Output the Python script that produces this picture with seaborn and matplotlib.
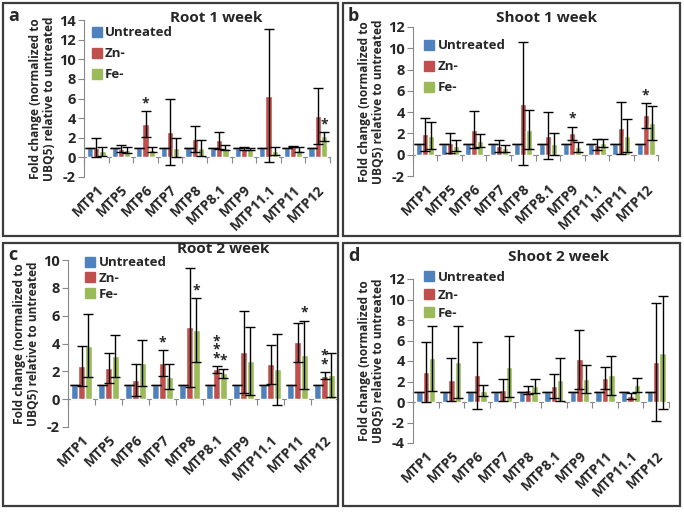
import matplotlib
matplotlib.use("Agg")
import matplotlib.pyplot as plt
import seaborn as sns
import pandas as pd
import numpy as np
from matplotlib.patches import Rectangle
from matplotlib.lines import Line2D

# ---------------- data ----------------
genes_1 = ["MTP1", "MTP5", "MTP6", "MTP7", "MTP8", "MTP8.1", "MTP9", "MTP11.1", "MTP11", "MTP12"]
genes_d = ["MTP1", "MTP5", "MTP6", "MTP7", "MTP8", "MTP8.1", "MTP9", "MTP11", "MTP11.1", "MTP12"]
conditions = ["Untreated", "Zn-", "Fe-"]

untreated = [1, 1, 1, 1, 1, 1, 1, 1, 1, 1]
untreated_err = [0, 0, 0, 0, 0, 0, 0, 0, 0, 0]

# a: Root 1 week
a_zn = [1.0, 0.9, 3.4, 2.6, 1.85, 1.75, 0.9, 6.3, 1.1, 4.25]
a_zn_err = [1.0, 0.35, 1.3, 3.4, 1.3, 0.85, 0.15, 6.8, 0.05, 2.85]
a_fe = [0.6, 0.75, 0.8, 1.0, 0.95, 1.0, 0.85, 0.65, 0.8, 2.15]
a_fe_err = [0.5, 0.35, 0.3, 1.0, 0.8, 0.25, 0.1, 0.4, 0.3, 0.45]
a_stars = [("Zn-", "MTP6", "*"), ("Fe-", "MTP12", "*")]

# b: Shoot 1 week
b_zn = [1.9, 1.1, 2.35, 0.8, 4.8, 1.8, 2.0, 0.95, 2.55, 3.7]
b_zn_err = [1.55, 0.9, 1.75, 0.55, 5.8, 2.2, 0.65, 0.5, 2.45, 1.2]
b_fe = [1.8, 0.85, 1.3, 0.6, 2.35, 1.0, 0.75, 1.1, 1.8, 2.95]
b_fe_err = [1.3, 0.5, 0.6, 0.3, 1.85, 1.0, 0.45, 0.35, 1.55, 1.6]
b_stars = [("Zn-", "MTP9", "*"), ("Zn-", "MTP12", "*")]

# c: Root 2 week
c_zn = [2.4, 2.25, 1.35, 2.6, 5.15, 2.15, 3.4, 2.5, 4.1, 1.7]
c_zn_err = [1.45, 1.1, 1.15, 0.9, 4.25, 0.25, 2.95, 1.4, 1.4, 0.25]
c_fe = [3.85, 3.1, 2.6, 1.6, 4.95, 1.85, 2.75, 2.15, 3.2, 1.75]
c_fe_err = [2.25, 1.5, 1.65, 0.9, 2.3, 0.35, 2.45, 2.55, 2.45, 1.6]
c_stars = [("Zn-", "MTP7", "*"), ("Fe-", "MTP8", "*"), ("Zn-", "MTP8.1", "*\n*\n*"),
           ("Fe-", "MTP8.1", "*"), ("Fe-", "MTP11", "*"), ("Zn-", "MTP12", "*\n*")]

# d: Shoot 2 week
d_zn = [2.95, 2.15, 2.6, 1.15, 1.15, 1.55, 4.15, 2.35, 0.6, 3.9]
d_zn_err = [2.95, 2.1, 3.3, 1.1, 0.4, 1.15, 2.9, 1.05, 0.3, 5.8]
d_fe = [4.25, 3.9, 1.1, 3.45, 1.55, 2.15, 2.25, 2.6, 1.65, 4.8]
d_fe_err = [3.15, 3.5, 0.55, 3.0, 0.7, 2.1, 1.4, 1.9, 0.7, 5.5]
d_stars = []

palette = {"Untreated": "#4F81BD", "Zn-": "#C0504D", "Fe-": "#9BBB59"}

sns.set_style("white")
plt.rcParams["font.family"] = ["Open Sans", "DejaVu Sans"]
plt.rcParams["font.weight"] = "bold"

W, H = 684, 512
fig = plt.figure(figsize=(W / 100, H / 100), dpi=100)


def fx(px):
    return px / W


def fy(py):
    return 1 - py / H


panels = [
    dict(letter="a", title="Root 1 week", genes=genes_1, zn=a_zn, zne=a_zn_err, fe=a_fe, fee=a_fe_err,
         stars=a_stars, box=(3, 3, 338, 236), axpx=(84, 20, 330, 177), ylim=(-2, 14), yt=2,
         tpos=(216, 18), lpos=(8, 16), leg=(0.0, 1.01), legsp=0.6),
    dict(letter="b", title="Shoot 1 week", genes=genes_1, zn=b_zn, zne=b_zn_err, fe=b_fe, fee=b_fe_err,
         stars=b_stars, box=(343, 3, 680, 236), axpx=(413, 27, 658, 176), ylim=(-2, 12), yt=2,
         tpos=(547, 18), lpos=(348, 16), leg=(0.015, 0.97), legsp=0.6),
    dict(letter="c", title="Root 2 week", genes=genes_1, zn=c_zn, zne=c_zn_err, fe=c_fe, fee=c_fe_err,
         stars=c_stars, box=(3, 243, 338, 506), axpx=(68, 260, 338, 427), ylim=(-2, 10), yt=2,
         tpos=(223, 249), lpos=(8, 255), leg=(0.035, 1.07), legsp=0.2),
    dict(letter="d", title="Shoot 2 week", genes=genes_d, zn=d_zn, zne=d_zn_err, fe=d_fe, fee=d_fe_err,
         stars=d_stars, box=(343, 243, 680, 506), axpx=(413, 279, 669, 443), ylim=(-4, 12), yt=2,
         tpos=(559, 257), lpos=(348, 256), leg=(0.015, 1.1), legsp=0.4),
]

for p in panels:
    x0, y0, x1, y1 = p["box"]
    fig.patches.append(Rectangle((fx(x0), fy(y1)), fx(x1 - x0), (y1 - y0) / H,
                                 transform=fig.transFigure, fill=False,
                                 edgecolor="#3c3c3c", linewidth=1.6, zorder=0))
    ax0, ay0, ax1, ay1 = p["axpx"]
    ax = fig.add_axes([fx(ax0), fy(ay1), fx(ax1 - ax0), (ay1 - ay0) / H])

    genes = p["genes"]
    df = pd.DataFrame({
        "gene": genes * 3,
        "cond": ["Untreated"] * 10 + ["Zn-"] * 10 + ["Fe-"] * 10,
        "value": list(untreated) + list(p["zn"]) + list(p["fe"]),
    })
    sns.barplot(data=df, x="gene", y="value", hue="cond", order=genes, hue_order=conditions,
                palette=palette, saturation=1, errorbar=None, width=0.75, gap=0,
                ax=ax, zorder=2, legend=False)

    errs = {"Untreated": untreated_err, "Zn-": p["zne"], "Fe-": p["fee"]}
    centers = {}
    for cond, cont in zip(conditions, ax.containers):
        xs = [b.get_x() + b.get_width() / 2 for b in cont]
        hs = [b.get_height() for b in cont]
        ax.errorbar(xs, hs, yerr=errs[cond], fmt="none", ecolor="black",
                    elinewidth=1.0, capsize=3.5, capthick=1.0, zorder=4)
        centers[cond] = (xs, hs)

    for cond, gene, s in p["stars"]:
        i = genes.index(gene)
        xs, hs = centers[cond]
        top = hs[i] + errs[cond][i]
        ax.text(xs[i], top + 0.05, s, ha="center", va="bottom", fontsize=10,
                fontweight="bold", linespacing=0.5, zorder=5)

    lo, hi = p["ylim"]
    ax.set_ylim(lo, hi)
    ax.set_xlim(-0.5, 9.5)
    ticks = np.arange(lo, hi + 0.01, p["yt"])
    ax.set_yticks(ticks)
    ax.set_yticklabels([f"{int(v)}" for v in ticks], fontsize=10.5, fontweight="bold")
    ax.set_xticks(range(10))
    ax.set_xticklabels(genes, rotation=45, ha="right", rotation_mode="anchor",
                       fontsize=10, fontweight="bold")
    ax.tick_params(axis="x", length=0, pad=4)
    ax.tick_params(axis="y", direction="out", length=4, width=0.8, color="#888888", pad=2, left=True)
    ax.set_xlabel("")
    ax.set_ylabel("Fold change (normalized to\nUBQ5) relative to untreated",
                  fontsize=8.6, fontweight="bold", labelpad=2, linespacing=1.1)
    for side in ["top", "right", "bottom"]:
        ax.spines[side].set_visible(False)
    ax.spines["left"].set_color("#888888")
    ax.spines["left"].set_linewidth(0.8)
    ax.patch.set_alpha(0)

    # category axis crossing at zero with ticks between groups
    frac0 = (0 - lo) / (hi - lo)
    sec = ax.secondary_xaxis(frac0)
    sec.set_xticks(np.arange(-0.5, 10, 1))
    sec.set_xticklabels([])
    sec.tick_params(direction="out", length=4, width=0.8, color="#888888")
    sec.spines["bottom"].set_color("#888888")
    sec.spines["bottom"].set_linewidth(0.8)

    handles = [Line2D([], [], linestyle="none", marker="s", markersize=7,
                      markerfacecolor=palette[c], markeredgecolor=palette[c]) for c in conditions]
    ax.legend(handles, conditions, loc="upper left", bbox_to_anchor=p["leg"], frameon=False,
              handlelength=0.7, handletextpad=0.3, labelspacing=p["legsp"], borderaxespad=0.2,
              prop={"size": 9.5, "weight": "bold"})

    fig.text(fx(p["tpos"][0]), fy(p["tpos"][1]), p["title"], ha="center", va="center",
             fontsize=11, fontweight="bold")
    fig.text(fx(p["lpos"][0]), fy(p["lpos"][1]), p["letter"], ha="left", va="center",
             fontsize=13, fontweight="bold")

fig.savefig("out.png", dpi=100)
